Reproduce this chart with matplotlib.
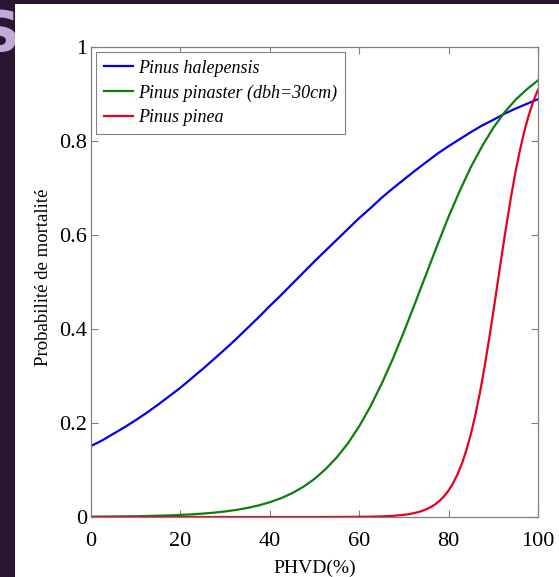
import numpy as np
import matplotlib
matplotlib.use('Agg')
import matplotlib.pyplot as plt
from matplotlib.patches import Rectangle

# PHVD (%) grid and mortality probabilities
phvd = [0, 2.5, 5, 7.5, 10, 12.5, 15, 17.5, 20, 22.5, 25, 27.5, 30, 32.5, 35, 37.5,
        40, 42.5, 45, 47.5, 50, 52.5, 55, 57.5, 60, 62.5, 65, 67.5, 70, 72.5, 75,
        77.5, 80, 82.5, 85, 87.5, 90, 92.5, 95, 97.5, 100]

halepensis = [0.151, 0.163, 0.177, 0.191, 0.206, 0.222, 0.239, 0.257, 0.275, 0.295,
              0.315, 0.336, 0.357, 0.379, 0.402, 0.425, 0.449, 0.472, 0.496, 0.520,
              0.544, 0.567, 0.590, 0.613, 0.636, 0.657, 0.679, 0.699, 0.718, 0.737,
              0.755, 0.773, 0.789, 0.804, 0.819, 0.833, 0.845, 0.858, 0.869, 0.879, 0.889]

pinaster = [0.0006, 0.0008, 0.0010, 0.0013, 0.0016, 0.0021, 0.0027, 0.0034, 0.0044, 0.0056,
            0.0072, 0.0092, 0.0118, 0.0151, 0.0193, 0.0246, 0.0314, 0.0399, 0.0507, 0.0642,
            0.081, 0.102, 0.127, 0.157, 0.193, 0.235, 0.283, 0.336, 0.394, 0.455,
            0.517, 0.579, 0.639, 0.694, 0.745, 0.789, 0.828, 0.861, 0.888, 0.910, 0.929]

# pinea rises steeply, so it is read on a finer grid near the top end
phvd_pinea = [0, 10, 20, 30, 40, 50, 55, 60, 62.5, 65, 67.5, 70, 71, 72, 73, 74, 75, 76,
              77, 78, 79, 80, 81, 82, 83, 84, 85, 86, 87, 88, 89, 90, 91, 92, 93, 94,
              95, 96, 97, 98, 99, 100]
pinea = [0.0, 0.0, 0.0, 0.0, 0.0, 0.0, 0.0001, 0.0004, 0.0007, 0.0013, 0.0024, 0.0046,
         0.0059, 0.0077, 0.0099, 0.0127, 0.0164, 0.0210, 0.0270, 0.0346, 0.0443, 0.0565,
         0.0718, 0.0909, 0.114, 0.143, 0.177, 0.218, 0.264, 0.317, 0.375, 0.436, 0.500,
         0.564, 0.625, 0.683, 0.736, 0.782, 0.823, 0.857, 0.886, 0.909]

labels = ['Pinus halepensis', 'Pinus pinaster (dbh=30cm)', 'Pinus pinea']
colors = ['#0000ee', '#0a800a', '#e8001c']

plt.rcParams['font.family'] = ['Liberation Serif', 'DejaVu Serif']

fig = plt.figure(figsize=(5.59, 5.77), dpi=100, facecolor='#2a1530')
fig.text(-0.036, 0.939, 'S', fontsize=40, color='#c3a9d6', fontweight='bold',
         family='DejaVu Sans', va='center', ha='left', zorder=0)
fig.patches.append(Rectangle((15 / 559, 0), 1, 1 - 4 / 577, transform=fig.transFigure,
                             facecolor='white', edgecolor='none', zorder=1))

ax = fig.add_axes([91 / 559, 60 / 577, 447 / 559, 470 / 577])
ax.set_zorder(2)
ax.plot(phvd, halepensis, color=colors[0], linewidth=1.6, label=labels[0])
ax.plot(phvd, pinaster, color=colors[1], linewidth=1.6, label=labels[1])
ax.plot(phvd_pinea, pinea, color=colors[2], linewidth=1.6, label=labels[2])

ax.set_xlim(0, 100)
ax.set_ylim(0, 1)
ax.set_xticks([0, 20, 40, 60, 80, 100])
ax.set_yticks([0, 0.2, 0.4, 0.6, 0.8, 1])
ax.set_yticklabels(['0', '0.2', '0.4', '0.6', '0.8', '1'])
ax.tick_params(direction='in', top=True, right=True, length=5, width=0.8,
               color='#808080', labelsize=16, pad=3)
ax.tick_params(axis='x', pad=11)
for s in ax.spines.values():
    s.set_color('#808080')
    s.set_linewidth(0.9)

ax.set_xlabel('PHVD(%)', fontsize=14, labelpad=6)
ax.set_ylabel('Probabilité de mortalité', fontsize=13.5)
ax.yaxis.set_label_coords(-0.087, 0.51)

leg = ax.legend(loc='upper left', prop={'style': 'italic', 'size': 13},
                fancybox=False, framealpha=1, edgecolor='#808080',
                borderaxespad=0.25, handlelength=1.65, handletextpad=0.25,
                labelspacing=0.42, borderpad=0.45)
leg.get_frame().set_linewidth(0.8)

fig.savefig('out.png', dpi=100, facecolor=fig.get_facecolor())
